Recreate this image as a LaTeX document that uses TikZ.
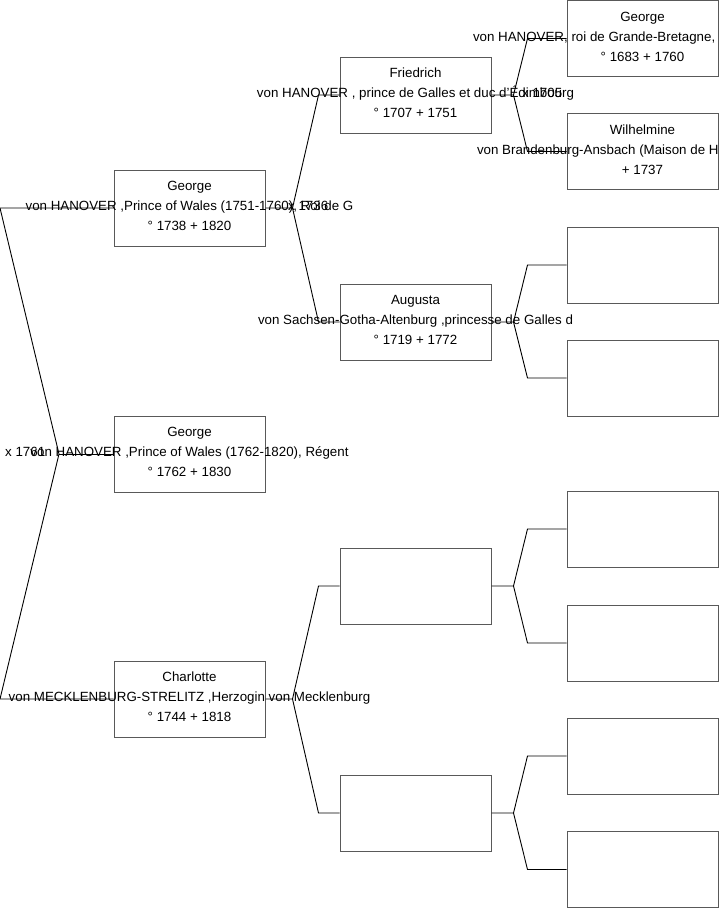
\documentclass[tikz,border=0pt]{standalone}
\usepackage{fontspec}
\setmainfont{Liberation Sans}
\usepackage{tikz}

\tikzset{
  personbox/.style={draw=black!65, line width=1pt, minimum width=151pt, minimum height=76pt, inner sep=0pt},
  persontext/.style={align=center, inner sep=0pt, yshift=2pt, font=\fontsize{13.33}{20}\selectfont},
  marriage/.style={anchor=west, inner sep=0pt, yshift=2pt, font=\fontsize{13.33}{20}\selectfont},
  link/.style={draw=black, line width=0.9pt}
}

% one person: box, then its text on top
\newcommand{\person}[4]{%
  \node[personbox] (#1) at (#2,#3) {};
  \node[persontext] (#1-t) at (#1.center) {#4};
}

% parent box to its two parents
\newcommand{\fork}[5]{%
  \coordinate (#1-v) at ([xshift=#4]#1.east);
  \draw[link] (#1.east) -- (#1-v) -- ([xshift=-#5]#2.west) -- (#2.west);
  \draw[link] (#1-v) -- ([xshift=-#5]#3.west) -- (#3.west);
}

\begin{document}
\begin{tikzpicture}[x=1pt, y=-1pt]
\useasboundingbox (0,0) rectangle (719,908);
\clip (0,0) rectangle (719,908);

% Generation 1
\person{georgeF}{189.5}{208}{George\\von HANOVER ,Prince of Wales (1751-1760), Roi de G\\° 1738 + 1820}
\person{georgeC}{189.5}{454}{George\\von HANOVER ,Prince of Wales (1762-1820), Régent\\° 1762 + 1830}
\person{charlotte}{189.5}{699}{Charlotte\\von MECKLENBURG-STRELITZ ,Herzogin von Mecklenburg\\° 1744 + 1818}

% Generation 2
\person{friedrich}{415.5}{95}{Friedrich\\von HANOVER , prince de Galles et duc d'Édimbourg\\° 1707 + 1751}
\person{augusta}{415.5}{322}{Augusta\\von Sachsen-Gotha-Altenburg ,princesse de Galles d\\° 1719 + 1772}
\person{mfather}{415.5}{586}{}
\person{mmother}{415.5}{813}{}

% Generation 3
\person{georgeG}{642.5}{38.5}{George\\\makebox[339pt][l]{von HANOVER, roi de Grande-Bretagne,}\\° 1683 + 1760}
\person{wilhelmine}{642.5}{151.5}{Wilhelmine\\\makebox[331pt][l]{von Brandenburg-Ansbach (Maison de H}\\+ 1737}
\person{afather}{642.5}{265}{}
\person{amother}{642.5}{378}{}
\person{mgf1}{642.5}{529}{}
\person{mgm1}{642.5}{643}{}
\person{mgf2}{642.5}{756}{}
\person{mgm2}{642.5}{869.5}{}

% Child to parents
\coordinate (root) at (59,454);
\coordinate (rootA) at (0,208);
\coordinate (rootB) at (0,699);
\draw[link] (root) -- (georgeC.west);
\draw[link] (georgeF.west) -- (rootA) -- (root) -- (rootB) -- (charlotte.west);

% Parents to grandparents
\fork{georgeF}{friedrich}{augusta}{27pt}{21pt}
\fork{charlotte}{mfather}{mmother}{27pt}{21pt}

% Grandparents to great-grandparents
\fork{friedrich}{georgeG}{wilhelmine}{22pt}{39pt}
\fork{augusta}{afather}{amother}{22pt}{39pt}
\fork{mfather}{mgf1}{mgm1}{22pt}{39pt}
\fork{mmother}{mgf2}{mgm2}{22pt}{39pt}

% Marriage years
\node[marriage] (m1761) at (5,454) {x 1761};
\node[marriage] (m1736) at (288,208) {x 1736};
\node[marriage] (m1705) at (522,95) {x 1705};

\end{tikzpicture}
\end{document}
